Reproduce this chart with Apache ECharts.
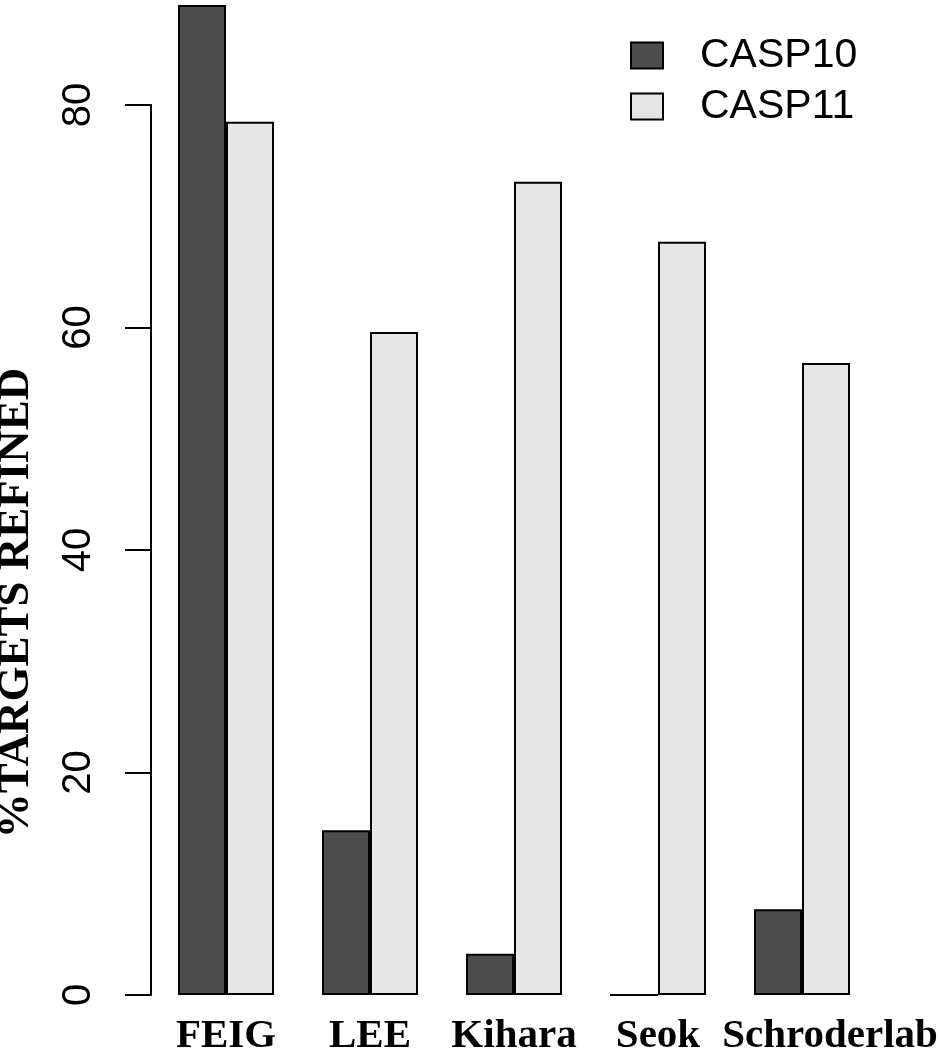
<!DOCTYPE html>
<html>
<head>
<meta charset="utf-8">
<script src="https://cdn.jsdelivr.net/npm/echarts@6/dist/echarts.min.js"></script>
<style>html,body{margin:0;padding:0;background:#fff}#c{width:938px;height:1050px}</style>
</head>
<body>
<div id="c"></div>
<script>
const groups = ['FEIG', 'LEE', 'Kihara', 'Seok', 'Schroderlab'];
const casp10 = [89.0, 14.8, 3.7, 0, 7.7];
const casp11 = [78.5, 59.6, 73.1, 67.7, 56.8];
const yTicks = [0, 20, 40, 60, 80];

const chart = echarts.init(document.getElementById('c'), null, {renderer: 'canvas'});
const labFont = {fontFamily: 'Liberation Serif', fontWeight: 'bold', fontSize: 41, color: '#000'};
chart.setOption({
  backgroundColor: '#ffffff',
  animation: false,
  grid: {left: 154, width: 720, top: 105, bottom: 55, containLabel: false, outerBoundsMode: 'none'},
  legend: {
    orient: 'vertical', left: 630, top: 35, padding: 0, itemWidth: 32, itemHeight: 26, itemGap: 10,
    icon: 'rect',
    textStyle: {fontFamily: 'Liberation Sans', fontSize: 41, color: '#000', padding: [0, 0, 0, 32]},
    data: ['CASP10', 'CASP11']
  },
  xAxis: {
    type: 'category', data: groups,
    axisLine: {show: false}, axisTick: {show: false},
    axisLabel: Object.assign({}, labFont, {
      margin: 21, interval: 0,
      formatter: function (v, i) { return i === groups.length - 1 ? '{s|' + v + '}' : '{n|' + v + '}'; },
      rich: {n: labFont, s: Object.assign({}, labFont, {padding: [0, 0, 0, 56]})}
    })
  },
  yAxis: {
    type: 'value', min: yTicks[0], max: yTicks[yTicks.length - 1], interval: 20, offset: 3,
    splitLine: {show: false},
    axisLine: {show: true, lineStyle: {color: '#000', width: 2}},
    axisTick: {show: true, length: 26, lineStyle: {color: '#000', width: 2}},
    axisLabel: {rotate: 90, fontFamily: 'Liberation Sans', fontSize: 40, color: '#000', margin: 52}
  },
  graphic: [{
    type: 'text', x: 16, y: 603, rotation: Math.PI / 2,
    style: {text: '%TARGETS REFINED', font: 'bold 45px "Liberation Serif"', fill: '#000', align: 'center', verticalAlign: 'middle'}
  }],
  series: [
    {name: 'CASP10', type: 'bar', data: casp10, barWidth: 48, barGap: '0%', clip: false,
     itemStyle: {color: '#4d4d4d', borderColor: '#000', borderWidth: 2}},
    {name: 'CASP11', type: 'bar', data: casp11, barWidth: 48, barGap: '0%', clip: false,
     itemStyle: {color: '#e6e6e6', borderColor: '#000', borderWidth: 2}}
  ]
});
</script>
</body>
</html>
